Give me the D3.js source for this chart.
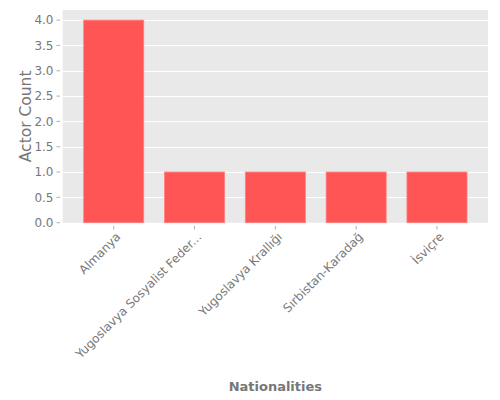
<!DOCTYPE html>
<html>
<head>
<meta charset="utf-8">
<script src="https://cdn.jsdelivr.net/npm/d3@7"></script>
<style>
  body { margin: 0; background: #fff; }
  text { font-family: "DejaVu Sans", sans-serif; }
</style>
</head>
<body>
<div id="chart"></div>
<script>
// chart data
const nationalities = ["Almanya", "Yugoslavya Sosyalist Feder...", "Yugoslavya Krallığı", "Sırbistan-Karadağ", "İsviçre"];
const actorCounts = [4, 1, 1, 1, 1];
const yTicks = [0, 0.5, 1, 1.5, 2, 2.5, 3, 3.5, 4];

const width = 500, height = 400;
const plot = {left: 62.7, right: 488, top: 10, bottom: 222.7};

const svg = d3.select("#chart").append("svg")
    .attr("width", width)
    .attr("height", height);

const x = d3.scaleBand()
    .domain(nationalities)
    .range([plot.left, plot.right])
    .paddingInner(0.257)
    .paddingOuter(0.26);

const y = d3.scaleLinear()
    .domain([0, 4.2])
    .range([plot.bottom, plot.top]);

// background
svg.append("rect")
    .attr("x", plot.left)
    .attr("y", plot.top)
    .attr("width", plot.right - plot.left)
    .attr("height", plot.bottom - plot.top)
    .attr("fill", "#e9e9e9");

// grid
svg.append("g")
    .selectAll("line")
    .data(yTicks).enter()
    .append("line")
    .attr("x1", plot.left)
    .attr("x2", plot.right)
    .attr("y1", d => Math.round(y(d)) + 0.5)
    .attr("y2", d => Math.round(y(d)) + 0.5)
    .attr("stroke", "#fff")
    .attr("stroke-width", 1);

// bars
svg.append("g")
    .selectAll("rect")
    .data(nationalities).enter()
    .append("rect")
    .attr("x", d => x(d))
    .attr("y", (d, i) => y(actorCounts[i]))
    .attr("width", x.bandwidth())
    .attr("height", (d, i) => y(0) - y(actorCounts[i]))
    .attr("fill", "#ff5555")
    .attr("stroke", "#ff8080")
    .attr("stroke-width", 0.8);

// y axis ticks + labels
const yAxis = svg.append("g");
yAxis.selectAll("line")
    .data(yTicks).enter()
    .append("line")
    .attr("x1", 56.5)
    .attr("x2", 60)
    .attr("y1", d => y(d))
    .attr("y2", d => y(d))
    .attr("stroke", "#999")
    .attr("stroke-width", 0.8);
yAxis.selectAll("text")
    .data(yTicks).enter()
    .append("text")
    .attr("x", 53.5)
    .attr("y", d => y(d))
    .attr("dy", "0.36em")
    .attr("text-anchor", "end")
    .attr("font-size", 12)
    .attr("fill", "#777")
    .text(d => d3.format(".1f")(d));

// x axis ticks + labels
const xAxis = svg.append("g");
xAxis.selectAll("line")
    .data(nationalities).enter()
    .append("line")
    .attr("x1", d => x(d) + x.bandwidth() / 2)
    .attr("x2", d => x(d) + x.bandwidth() / 2)
    .attr("y1", 226)
    .attr("y2", 229.5)
    .attr("stroke", "#999")
    .attr("stroke-width", 0.8);
xAxis.selectAll("text")
    .data(nationalities).enter()
    .append("text")
    .attr("transform", d => "translate(" + (x(d) + x.bandwidth() / 2 + 7.6) + "," + 237.6 + ") rotate(-45)")
    .attr("text-anchor", "end")
    .attr("font-size", 12)
    .attr("fill", "#777")
    .text(d => d);

// axis titles
svg.append("text")
    .attr("transform", "translate(31," + (plot.top + plot.bottom) / 2 + ") rotate(-90)")
    .attr("text-anchor", "middle")
    .attr("font-size", 15.5)
    .attr("fill", "#777")
    .text("Actor Count");

svg.append("text")
    .attr("x", (plot.left + plot.right) / 2)
    .attr("y", 391)
    .attr("text-anchor", "middle")
    .attr("font-size", 13)
    .attr("font-weight", "bold")
    .attr("fill", "#777")
    .text("Nationalities");
</script>
</body>
</html>
